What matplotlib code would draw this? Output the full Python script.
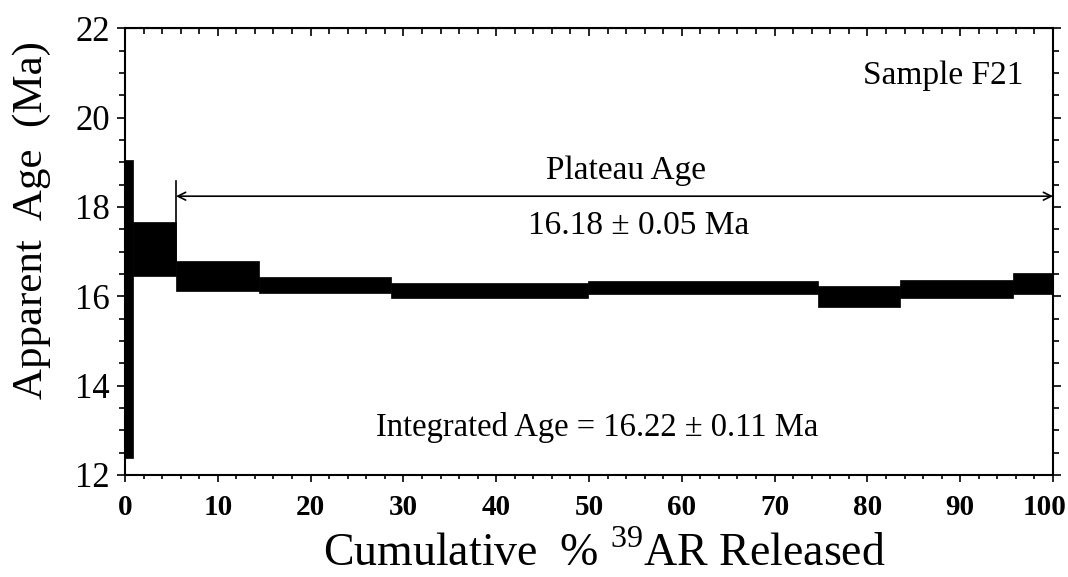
import matplotlib
matplotlib.use('Agg')
import matplotlib.pyplot as plt
import matplotlib.transforms as mtransforms
from matplotlib.ticker import MultipleLocator

plt.rcParams['font.family'] = ['Liberation Serif', 'DejaVu Serif']
plt.rcParams['mathtext.fontset'] = 'custom'
plt.rcParams['mathtext.rm'] = 'Liberation Serif'

# step edges (cumulative % 39Ar released) and age box limits (Ma)
cum_pct = [0, 0.9, 5.5, 14.4, 28.7, 49.9, 74.7, 83.5, 95.7, 100]
age_hi = [19.06, 17.67, 16.78, 16.43, 16.30, 16.34, 16.22, 16.36, 16.52]
age_lo = [12.37, 16.46, 16.11, 16.07, 15.97, 16.05, 15.76, 15.95, 16.04]

plateau_start = 5.5
plateau_end = 100
plateau_arrow_y = 18.24
plateau_bar_top = 18.59

fig = plt.figure(figsize=(10.68, 5.77), dpi=100)
ax = fig.add_axes([0.117, 0.177, 0.869, 0.774])

# age spectrum boxes
widths = [cum_pct[i + 1] - cum_pct[i] for i in range(len(age_hi))]
heights = [age_hi[i] - age_lo[i] for i in range(len(age_hi))]
ax.bar(cum_pct[:-1], heights, width=widths, bottom=age_lo, align='edge',
       color='black', edgecolor='black', linewidth=0.5)

# plateau bracket
ax.plot([plateau_start, plateau_start], [age_hi[2], plateau_bar_top], color='black', lw=1.2)
ax.annotate('', xy=(plateau_start, plateau_arrow_y), xytext=(plateau_end, plateau_arrow_y),
            arrowprops=dict(arrowstyle='<->', color='black', lw=1.2, shrinkA=0, shrinkB=0,
                            mutation_scale=14))

ax.text(54.0, 18.8, 'Plateau Age', ha='center', va='center', fontsize=24)
ax.text(55.3, 17.58, '16.18 \u00b1 0.05 Ma', ha='center', va='center', fontsize=24)
ax.text(96.8, 20.94, 'Sample F21', ha='right', va='center', fontsize=24)
ax.text(50.9, 13.07, 'Integrated Age = 16.22 \u00b1 0.11 Ma', ha='center', va='center', fontsize=23.5)

ax.set_xlim(0, 100)
ax.set_ylim(12, 22)
ax.set_xticks(range(0, 101, 10))
ax.xaxis.set_minor_locator(MultipleLocator(2))
ax.yaxis.set_major_locator(MultipleLocator(2))
ax.yaxis.set_minor_locator(MultipleLocator(0.5))

for s in ax.spines.values():
    s.set_linewidth(1.5)

ax.tick_params(axis='x', which='both', direction='out', top=False, width=1.2)
ax.tick_params(axis='x', which='major', length=5, pad=9, labelsize=21)
ax.tick_params(axis='x', which='minor', length=3)
ax.tick_params(axis='y', which='both', direction='out', right=True, width=1.2)
ax.tick_params(axis='y', which='major', length=6, pad=5, labelsize=25)
ax.tick_params(axis='y', which='minor', length=4)
for lab in ax.get_xticklabels():
    lab.set_fontweight('bold')

# nudge the "100" label left so it stays inside the figure
last = ax.xaxis.get_major_ticks()[-1].label1
last.set_transform(last.get_transform() + mtransforms.ScaledTranslation(-8 / 100, 0, fig.dpi_scale_trans))

# top ticks point inward
top = ax.secondary_xaxis('top')
top.set_xticks(range(0, 101, 10))
top.xaxis.set_minor_locator(MultipleLocator(2))
top.tick_params(which='both', direction='in', labeltop=False, width=1.2)
top.tick_params(which='major', length=6)
top.tick_params(which='minor', length=4)

fig.text(0.03, 1 - 220 / 577, 'Apparent  Age  (Ma)', rotation=90, ha='center', va='center',
         fontsize=31)
fig.text(0.566, 0.04, r'Cumulative  % $^{\mathrm{39}}$AR Released', ha='center', va='center',
         fontsize=33)

fig.savefig('out.png', dpi=100)
